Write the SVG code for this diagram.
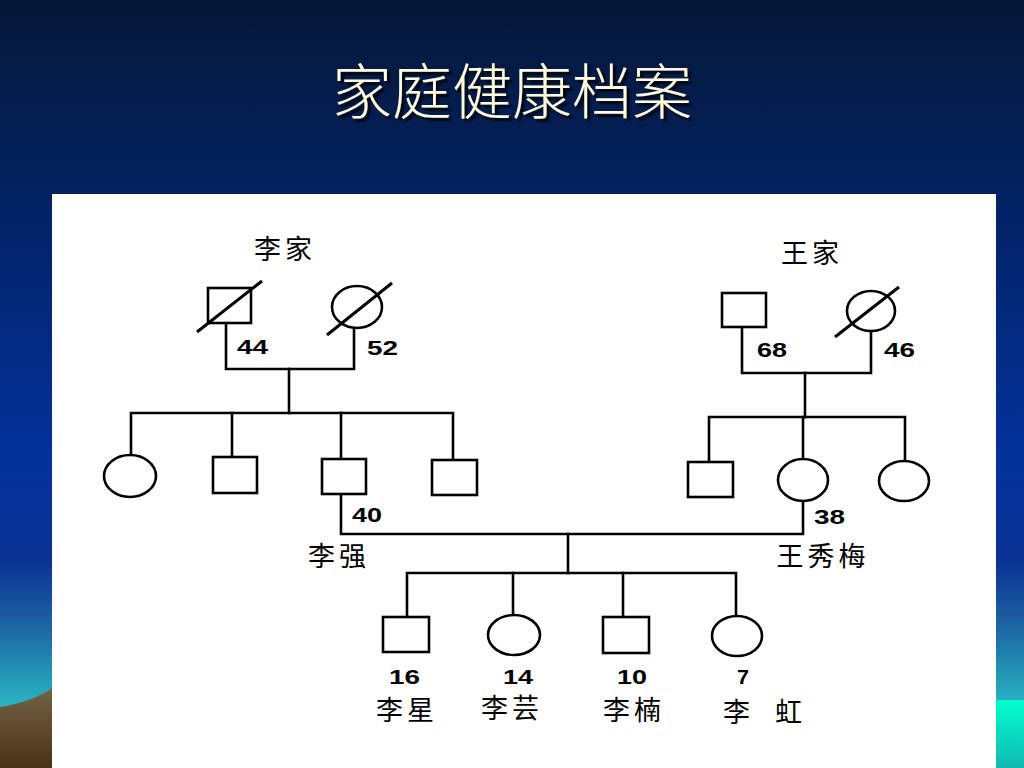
<svg xmlns="http://www.w3.org/2000/svg" width="1024" height="768" viewBox="0 0 1024 768">
<defs>
<linearGradient id="bg" x1="0" y1="0" x2="0" y2="768" gradientUnits="userSpaceOnUse">
<stop offset="0" stop-color="#061737"/>
<stop offset="0.3" stop-color="#03246a"/>
<stop offset="0.6" stop-color="#04329c"/>
<stop offset="0.73" stop-color="#0a3294"/>
<stop offset="0.8" stop-color="#1a5a9e"/>
<stop offset="0.92" stop-color="#2ab6c2"/>
<stop offset="1" stop-color="#2cc0c8"/>
</linearGradient>
<linearGradient id="hill" x1="0" y1="688" x2="0" y2="768" gradientUnits="userSpaceOnUse">
<stop offset="0" stop-color="#736246"/>
<stop offset="1" stop-color="#4a3318"/>
</linearGradient>
<linearGradient id="sea" x1="0" y1="700" x2="0" y2="768" gradientUnits="userSpaceOnUse">
<stop offset="0" stop-color="#00ffd0"/>
<stop offset="1" stop-color="#12b8b0"/>
</linearGradient>
<filter id="shadow" x="-10%" y="-20%" width="120%" height="150%">
<feDropShadow dx="3" dy="3" stdDeviation="1" flood-color="#000" flood-opacity="0.85"/>
</filter>
<style>
.ln{fill:none;stroke:#000;stroke-width:2.6;stroke-linecap:square}
.sh{fill:#fff;stroke:#000;stroke-width:2.6}
.sl{stroke:#000;stroke-width:3}
.num{font-family:"Liberation Sans",Arial,sans-serif;font-weight:bold;font-size:21px;fill:#000}
.nm{font-family:"Noto Sans CJK SC",sans-serif;font-size:27px;fill:#000;letter-spacing:4px}
.ttl{font-family:"Noto Sans CJK SC",sans-serif;font-size:60px;font-weight:300;text-anchor:middle}
</style>
</defs>
<rect width="1024" height="768" fill="url(#bg)"/>
<path d="M0,707 C20,704 40,697 52,688 L52,768 L0,768 Z" fill="url(#hill)"/>
<rect x="996" y="700" width="28" height="68" fill="url(#sea)"/>
<text class="ttl" x="512" y="114" fill="#fffbdc" filter="url(#shadow)">家庭健康档案</text>
<rect x="52" y="194" width="944" height="574" fill="#fff"/>

<g id="connectors">
<path class="ln" d="M226,323 V369 H354 V328"/>
<path class="ln" d="M289,369 V413"/>
<path class="ln" d="M131,455 V413 H453 V460"/>
<path class="ln" d="M232,413 V457"/>
<path class="ln" d="M341,413 V459"/>
<path class="ln" d="M742,327 V373 H871 V332"/>
<path class="ln" d="M805,373 V417"/>
<path class="ln" d="M709,462 V417 H905 V461"/>
<path class="ln" d="M803,417 V459"/>
<path class="ln" d="M341,494 V534 H803 V500"/>
<path class="ln" d="M568,534 V573"/>
<path class="ln" d="M407,617 V573 H736 V616"/>
<path class="ln" d="M513,573 V615"/>
<path class="ln" d="M623,573 V617"/>
</g>

<g id="li-family-label"><text class="nm" x="285" y="259" text-anchor="middle">李家</text></g>
<g id="wang-family-label"><text class="nm" x="812" y="263" text-anchor="middle">王家</text></g>

<g id="li-grandfather">
<rect class="sh" x="208" y="288" width="43" height="35"/>
<line class="sl" x1="197" y1="332" x2="262" y2="281"/>
<text class="num" x="237" y="354" textLength="31" lengthAdjust="spacingAndGlyphs">44</text>
</g>
<g id="li-grandmother">
<ellipse class="sh" cx="357" cy="307" rx="25" ry="21"/>
<line class="sl" x1="327" y1="335" x2="392" y2="283"/>
<text class="num" x="367" y="355" textLength="31" lengthAdjust="spacingAndGlyphs">52</text>
</g>
<g id="wang-grandfather">
<rect class="sh" x="722" y="293" width="44" height="34"/>
<text class="num" x="757" y="357" textLength="30" lengthAdjust="spacingAndGlyphs">68</text>
</g>
<g id="wang-grandmother">
<ellipse class="sh" cx="871" cy="311" rx="24" ry="20"/>
<line class="sl" x1="835" y1="337" x2="899" y2="287"/>
<text class="num" x="884" y="357" textLength="31" lengthAdjust="spacingAndGlyphs">46</text>
</g>

<g id="li-child1"><ellipse class="sh" cx="130" cy="476" rx="26" ry="21"/></g>
<g id="li-child2"><rect class="sh" x="213" y="457" width="44" height="36"/></g>
<g id="li-qiang">
<rect class="sh" x="322" y="459" width="44" height="35"/>
<text class="num" x="352" y="522" textLength="30" lengthAdjust="spacingAndGlyphs">40</text>
<text class="nm" x="339" y="566" text-anchor="middle">李强</text>
</g>
<g id="li-child4"><rect class="sh" x="432" y="460" width="45" height="35"/></g>

<g id="wang-child1"><rect class="sh" x="688" y="462" width="45" height="35"/></g>
<g id="wang-xiumei">
<ellipse class="sh" cx="803" cy="480" rx="25" ry="21"/>
<text class="num" x="814" y="524" textLength="31" lengthAdjust="spacingAndGlyphs">38</text>
<text class="nm" x="823" y="566" text-anchor="middle">王秀梅</text>
</g>
<g id="wang-child3"><ellipse class="sh" cx="904" cy="481" rx="25" ry="20"/></g>

<g id="li-xing">
<rect class="sh" x="383" y="617" width="46" height="35"/>
<text class="num" x="389" y="684" textLength="31" lengthAdjust="spacingAndGlyphs">16</text>
<text class="nm" x="407" y="720" text-anchor="middle">李星</text>
</g>
<g id="li-yun">
<ellipse class="sh" cx="514" cy="635" rx="26" ry="20"/>
<text class="num" x="503" y="684" textLength="30" lengthAdjust="spacingAndGlyphs">14</text>
<text class="nm" x="512" y="718" text-anchor="middle">李芸</text>
</g>
<g id="li-nan">
<rect class="sh" x="603" y="617" width="46" height="36"/>
<text class="num" x="617" y="684" textLength="30" lengthAdjust="spacingAndGlyphs">10</text>
<text class="nm" x="634" y="720" text-anchor="middle">李楠</text>
</g>
<g id="li-hong">
<ellipse class="sh" cx="737" cy="636" rx="25" ry="20"/>
<text class="num" x="737" y="684" textLength="12" lengthAdjust="spacingAndGlyphs">7</text>
<text class="nm" x="723" y="722">李</text>
<text class="nm" x="775" y="722">虹</text>
</g>
</svg>
